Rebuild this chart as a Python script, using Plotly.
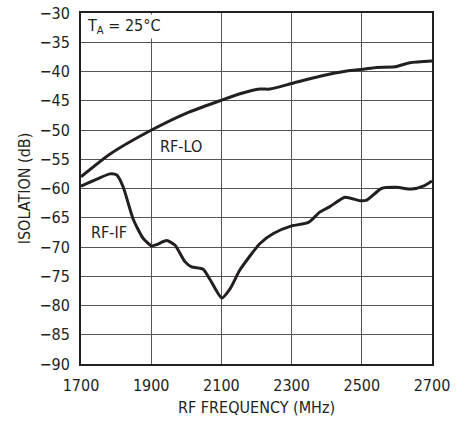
import plotly.graph_objects as go

lo_freq = [1700, 1783, 1901, 2001, 2096, 2153, 2210, 2238, 2303, 2381, 2457, 2504, 2542, 2594, 2637, 2700]
lo_iso = [-58.0, -54.1, -50.0, -47.1, -45.0, -43.8, -43.0, -43.0, -42.0, -40.8, -39.9, -39.6, -39.3, -39.2, -38.5, -38.2]

if_freq = [1700, 1745, 1783, 1802, 1820, 1849, 1877, 1901, 1915, 1944, 1968, 1996, 2015, 2048, 2068, 2101,
           2125, 2153, 2210, 2248, 2300, 2348, 2381, 2409, 2452, 2495, 2514, 2556, 2599, 2642, 2675, 2700]
if_iso = [-59.6, -58.4, -57.5, -57.7, -59.7, -65.3, -68.5, -69.8, -69.6, -68.9, -69.7, -72.5, -73.4, -73.8, -75.6, -78.7,
          -77.1, -73.9, -69.4, -67.7, -66.4, -65.8, -64.0, -63.1, -61.5, -62.1, -62.0, -60.0, -59.8, -60.1, -59.6, -58.7]

x_ticks = [1700, 1900, 2100, 2300, 2500, 2700]
y_ticks = [-90, -85, -80, -75, -70, -65, -60, -55, -50, -45, -40, -35, -30]

FONT = "DejaVu Sans Condensed, Liberation Sans Narrow, Arial Narrow, sans-serif"
INK = "#231f20"

fig = go.Figure()
fig.add_trace(go.Scatter(x=lo_freq, y=lo_iso, mode="lines", line=dict(color=INK, width=3, shape="spline", smoothing=0.6), showlegend=False))
fig.add_trace(go.Scatter(x=if_freq, y=if_iso, mode="lines", line=dict(color=INK, width=3, shape="spline", smoothing=0.6), showlegend=False))

fig.update_layout(
    width=467, height=423,
    margin=dict(l=81, r=35, t=13, b=59, autoexpand=False),
    paper_bgcolor="white", plot_bgcolor="white",
    font=dict(family=FONT, size=16, color=INK),
    xaxis=dict(range=[1700, 2700], tickvals=x_ticks, ticktext=[str(v) for v in x_ticks],
               showgrid=True, gridcolor="#555555", gridwidth=1, zeroline=False, automargin=False,
               showline=True, linecolor=INK, linewidth=2, mirror=True, ticks="", ticklabelstandoff=6,
               title=dict(text="RF FREQUENCY (MHz)", font=dict(size=16), standoff=8)),
    yaxis=dict(range=[-90, -30], tickvals=y_ticks,
               showgrid=True, gridcolor="#555555", gridwidth=1, zeroline=False, automargin=False,
               showline=True, linecolor=INK, linewidth=2, mirror=True, ticks="", ticklabelstandoff=6,
               title=dict(text="ISOLATION (dB)", font=dict(size=16), standoff=5)),
    annotations=[
        dict(x=1700, y=-30, xref="x", yref="y", xanchor="left", yanchor="top", showarrow=False,
             text="T<sub>A</sub> = 25°C", bgcolor="white", xshift=4, yshift=-1, font=dict(size=16)),
        dict(x=1985, y=-52.9, xref="x", yref="y", showarrow=False, text="RF-LO", font=dict(size=16)),
        dict(x=1780, y=-67.6, xref="x", yref="y", showarrow=False, text="RF-IF", font=dict(size=16)),
    ],
)

fig.write_html("out.html", config={"displayModeBar": False},
               post_script="document.body.style.margin='0';document.body.style.padding='0';")
